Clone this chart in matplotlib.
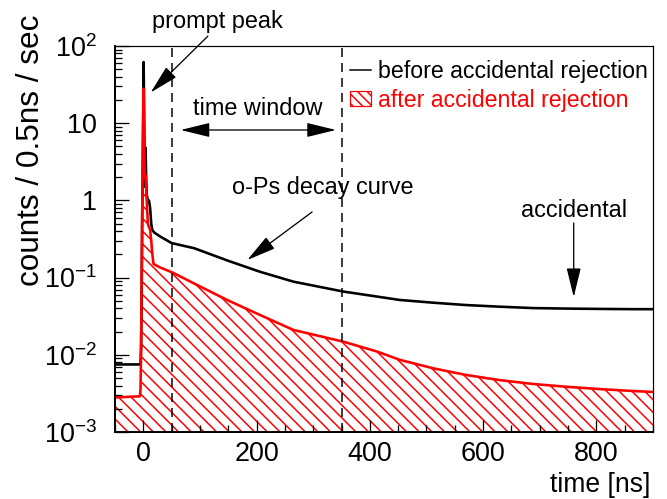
import matplotlib
matplotlib.use("Agg")
import matplotlib.pyplot as plt
from matplotlib.lines import Line2D
from matplotlib.patches import Patch
from matplotlib.ticker import FixedLocator, FixedFormatter, MultipleLocator, LogLocator, NullFormatter

# ---------------- data ----------------
t_before = [-50, -5, -4, -3, -2, -1, 0, 0.5, 1, 2, 3, 4, 5, 6, 8, 10, 12, 14, 16, 20, 30, 50,
            90, 150, 206, 265, 353, 453, 512, 570, 629, 688, 746, 805, 863, 900]
v_before = [0.0075, 0.0075, 0.012, 0.05, 0.6, 3, 20, 62, 30, 5, 1.5, 4.8, 2, 1.2, 1.0, 1.0, 0.8,
            0.5, 0.41, 0.38, 0.34, 0.28, 0.24, 0.165, 0.119, 0.0886, 0.066, 0.0513,
            0.0473, 0.0441, 0.0420, 0.0403, 0.0397, 0.0393, 0.0390, 0.0390]

t_after = [-50, -6, -5, -4, -3, -2, -1, 0, 0.5, 1, 2, 3, 4, 5, 6, 8, 10, 12, 14, 16, 18, 30, 52,
           89, 148, 206, 265, 353, 413, 453, 512, 570, 629, 688, 746, 805, 863, 900]
v_after = [0.0028, 0.0029, 0.0035, 0.01, 0.1, 0.6, 3, 15, 28, 12, 3, 2, 2.1, 1.5, 1.0, 0.5, 0.45,
           0.42, 0.3, 0.2, 0.15, 0.135, 0.116, 0.0844, 0.0513, 0.0328, 0.021, 0.0148, 0.011,
           0.0086, 0.00668, 0.00548, 0.0047, 0.00419, 0.00386, 0.0036, 0.0034, 0.0033]

window = [50, 350]
x_ticks = [0, 200, 400, 600, 800]
y_ticks = [1e-3, 1e-2, 1e-1, 1, 10, 100]
y_tick_labels = [r"$10^{-3}$", r"$10^{-2}$", r"$10^{-1}$", "1", "10", r"$10^{2}$"]
legend_labels = ["before accidental rejection", "after accidental rejection"]

# ---------------- style ----------------
DPI = 114
W, H = 667, 499
def pt(px):
    return px * 72.0 / DPI

plt.rcParams["font.family"] = ["Liberation Sans", "DejaVu Sans"]
plt.rcParams["mathtext.fontset"] = "custom"
plt.rcParams["mathtext.rm"] = "Liberation Sans"
plt.rcParams["mathtext.it"] = "Liberation Sans:italic"
plt.rcParams["mathtext.bf"] = "Liberation Sans:bold"
plt.rcParams["hatch.linewidth"] = pt(1.5)
plt.rcParams["hatch.color"] = "red"

fig = plt.figure(figsize=(W / DPI, H / DPI), dpi=DPI)
L, R, T, B = 115, 653, 46, 432
ax = fig.add_axes([L / W, 1 - B / H, (R - L) / W, (B - T) / H])

ax.set_yscale("log")
ax.set_xlim(-50, 900)
ax.set_ylim(1e-3, 1e2)

# hatched area under the "after" curve
ax.fill_between(t_after, 1e-3, v_after, facecolor="none", edgecolor="red",
                hatch="\\\\\\", linewidth=0)
ax.plot(t_before, v_before, color="black", lw=pt(2.6), solid_joinstyle="round")
ax.plot(t_after, v_after, color="red", lw=pt(2.6), solid_joinstyle="round")

dash_lw = pt(1.5)
for xw in window:
    ax.axvline(xw, color="black", lw=dash_lw, dashes=(pt(9) / dash_lw, pt(6) / dash_lw))

# ticks
ax.xaxis.set_major_locator(FixedLocator(x_ticks))
ax.xaxis.set_minor_locator(MultipleLocator(50))
ax.yaxis.set_major_locator(FixedLocator(y_ticks))
ax.yaxis.set_major_formatter(FixedFormatter(y_tick_labels))
ax.yaxis.set_minor_locator(LogLocator(base=10, subs=range(2, 10), numticks=20))
ax.yaxis.set_minor_formatter(NullFormatter())
fs_tick = pt(27)
ax.tick_params(axis="both", which="both", direction="in", top=False, right=False)
ax.tick_params(axis="x", which="major", length=pt(12), width=pt(1.3), pad=pt(9), labelsize=fs_tick)
ax.tick_params(axis="x", which="minor", length=pt(7), width=pt(1.3))
ax.tick_params(axis="y", which="major", length=pt(14), width=pt(1.3), pad=pt(18), labelsize=fs_tick)
ax.tick_params(axis="y", which="minor", length=pt(7), width=pt(1.3))

for s in ["left", "bottom"]:
    ax.spines[s].set_linewidth(pt(2))
for s in ["top", "right"]:
    ax.spines[s].set_linewidth(pt(1.2))

# axis titles
fig.text(650 / W, 1 - 485 / H, "time [ns]", ha="right", va="center", fontsize=pt(26.5))
fig.text(31 / W, 1 - 150 / H, "counts / 0.5ns / sec", ha="center", va="center",
         rotation=90, fontsize=pt(31.5))

# annotations
fs_ann = pt(23.5)
arrow_kw = dict(arrowstyle="-|>,head_length=0.9,head_width=0.22", color="black",
                lw=pt(1.3), shrinkA=0, shrinkB=0, mutation_scale=pt(28))
ax.annotate("prompt peak", xy=(13, 25), xytext=(131, 147), textcoords="data",
            fontsize=fs_ann, ha="center", va="bottom", annotation_clip=False,
            arrowprops=dict(arrow_kw, relpos=(0.45, 0.0)))
ax.text(202, 15.7, "time window", fontsize=fs_ann, ha="center", va="center")
ax.annotate("", xy=(66, 8.17), xytext=(340, 8.17),
            arrowprops=dict(arrowstyle="<|-|>,head_length=0.9,head_width=0.22", color="black",
                            lw=pt(1.3), shrinkA=0, shrinkB=0, mutation_scale=pt(28)))
ax.text(316, 1.45, "o-Ps decay curve", fontsize=fs_ann, ha="center", va="center")
ax.annotate("", xy=(183.6, 0.169), xytext=(298, 0.708), arrowprops=arrow_kw)
ax.text(760, 0.75, "accidental", fontsize=fs_ann, ha="center", va="center")
ax.annotate("", xy=(760, 0.056), xytext=(760, 0.51), arrowprops=arrow_kw)

# legend
handles = [Line2D([], [], color="black", lw=pt(1.5)),
           Patch(facecolor="white", edgecolor="red", hatch="\\\\\\\\", lw=pt(1.2))]
leg = ax.legend(handles, legend_labels, loc="upper right", bbox_to_anchor=(1.008, 0.988),
                frameon=False, fontsize=pt(23.2), handlelength=0.9, handleheight=0.65,
                handletextpad=0.3, labelspacing=0.25, borderaxespad=0.2, borderpad=0.2)
leg.get_texts()[1].set_color("red")

fig.savefig("out.png", dpi=DPI)
